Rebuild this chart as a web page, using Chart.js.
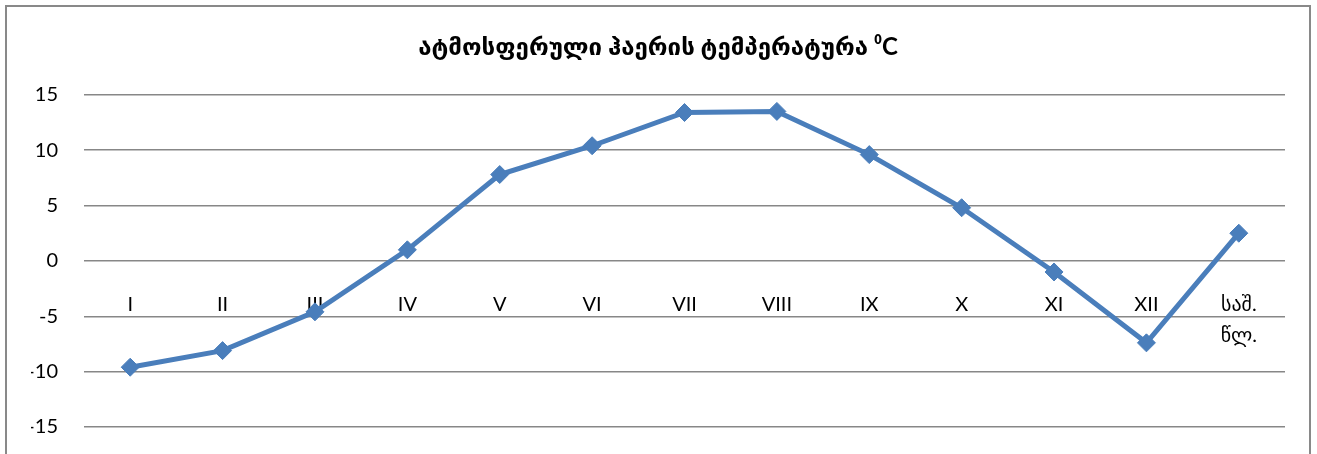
<!DOCTYPE html>
<html>
<head>
<meta charset="utf-8">
<script src="https://cdn.jsdelivr.net/npm/chart.js@4/dist/chart.umd.min.js"></script>
<style>
    html, body { margin: 0; padding: 0; background: #fff; overflow: hidden; }
    #wrap {
        position: absolute; left: 5px; top: 5px;
        width: 1306px; height: 470px;
        border: 2px solid #898989; box-sizing: border-box;
    }
</style>
</head>
<body>
<div id="wrap"><canvas id="tempChart"></canvas></div>
<script>
// Дані з графіка
const months = ['I', 'II', 'III', 'IV', 'V', 'VI', 'VII', 'VIII', 'IX', 'X', 'XI', 'XII', ['საშ.', 'წლ.']];
const temperature = [-9.6, -8.1, -4.6, 1.0, 7.8, 10.4, 13.4, 13.5, 9.6, 4.8, -1.0, -7.4, 2.5];
const yTicks = [-15, -10, -5, 0, 5, 10, 15];
const chartTitle = 'ატმოსფერული ჰაერის ტემპერატურა ⁰C';

const fontFamily = "Lato, 'DejaVu Sans', sans-serif";
const lineColor = '#4a7ebb';

const ctx = document.getElementById('tempChart').getContext('2d');
const tempChart = new Chart(ctx, {
    type: 'line',
    data: {
        labels: months,
        datasets: [{
            data: temperature,
            borderColor: lineColor,
            backgroundColor: lineColor,
            borderWidth: 5,
            pointStyle: 'rectRot',
            pointRadius: 9,
            pointHoverRadius: 9,
            pointBorderWidth: 1,
            tension: 0
        }]
    },
    options: {
        responsive: true,
        maintainAspectRatio: false,
        animation: false,
        layout: {
            // симетричні відступи, щоб заголовок був по центру
            padding: { left: 24, right: 24, top: 8, bottom: 46 }
        },
        plugins: {
            legend: { display: false },
            tooltip: { enabled: false },
            title: {
                display: true,
                text: chartTitle,
                color: '#000',
                font: { family: fontFamily, size: 24, weight: 'bold' },
                padding: { top: 18, bottom: 33 }
            }
        },
        scales: {
            x: {
                type: 'category',
                offset: true,
                position: { y: 0 },
                grid: { display: false },
                border: { display: false },
                // ось у центрі не повинна зсувати область графіка
                afterFit: scale => {
                    scale.paddingLeft = 0;
                    scale.paddingRight = 0;
                },
                ticks: {
                    color: '#000',
                    padding: 20,
                    maxRotation: 0,
                    autoSkip: false,
                    font: { family: fontFamily, size: 20, lineHeight: 1.55 }
                }
            },
            y: {
                min: -15,
                max: 15,
                afterBuildTicks: scale => {
                    scale.ticks = yTicks.map(v => ({ value: v }));
                },
                afterFit: scale => {
                    scale.width = 53;
                },
                grid: {
                    color: '#878787',
                    lineWidth: 1.5,
                    drawTicks: false
                },
                border: { display: false },
                ticks: {
                    color: '#000',
                    padding: 26,
                    font: { family: fontFamily, size: 20 }
                }
            }
        }
    }
});
</script>
</body>
</html>
